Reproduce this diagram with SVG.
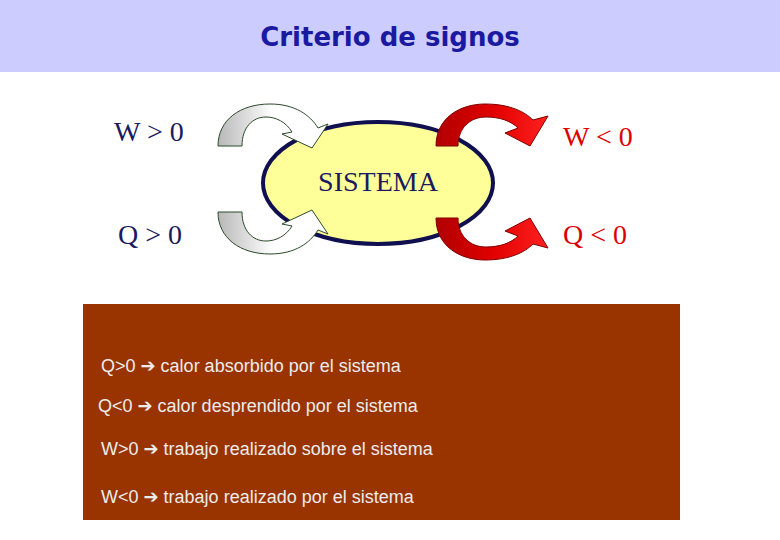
<svg xmlns="http://www.w3.org/2000/svg" width="780" height="540" viewBox="0 0 780 540">
<defs>
<linearGradient id="g" x1="0" y1="0" x2="1" y2="0"><stop offset="0" stop-color="#b8b8b8"/><stop offset="0.5" stop-color="#fff"/><stop offset="1" stop-color="#fff"/></linearGradient>
<linearGradient id="r" x1="0" y1="0" x2="1" y2="0"><stop offset="0" stop-color="#b00000"/><stop offset="0.5" stop-color="#e00000"/><stop offset="1" stop-color="#ff2020"/></linearGradient>
</defs>
<style>
.sg{font-family:"Liberation Serif",serif;font-size:28px}
.b{fill:#1a1a60}.rd{fill:#dd0000}
.t{font-family:"Liberation Sans","DejaVu Sans",sans-serif;font-size:18px;fill:#ececec}
.ga{fill:url(#g);stroke:#2a4a2a;stroke-width:1}
.ra{fill:url(#r);stroke:#800000;stroke-width:1}
</style>
<rect x="0" y="0" width="780" height="540" fill="#fff"/>
<g id="title"><rect x="0" y="0" width="780" height="72" fill="#ccccff"/>
<text x="390" y="46" text-anchor="middle" font-family="'DejaVu Sans',sans-serif" font-weight="bold" font-size="26" fill="#1a1aa0">Criterio de signos</text></g>
<g id="sistema"><ellipse cx="378" cy="183" rx="115" ry="61" fill="#ffff99" stroke="#101050" stroke-width="4"/>
<text x="378" y="191" text-anchor="middle" class="sg b" font-size="25">SISTEMA</text></g>
<g id="connectors">
<path class="ga" d="M218,146 C218,120 240,104 270,104 C295,104 310,115 318,128 L328,124 L312,148 L282,134 L292,132 C286,122 276,117 266,117 C252,117 242,128 242,146 Z"/>
<path class="ga" transform="matrix(1,0,0,-1,0,358)" d="M218,146 C218,120 240,104 270,104 C295,104 310,115 318,128 L328,124 L312,148 L282,134 L292,132 C286,122 276,117 266,117 C252,117 242,128 242,146 Z"/>
<path class="ra" d="M436,146 C436,118 460,104 485,104 C510,104 525,112 533,120 L548,116 L530,146 L505,133 L518,128 C511,121 500,117 486,117 C470,117 458,128 458,146 Z"/>
<path class="ra" transform="matrix(1,0,0,-1,0,364)" d="M436,146 C436,118 460,104 485,104 C510,104 525,112 533,120 L548,116 L530,146 L505,133 L518,128 C511,121 500,117 486,117 C470,117 458,128 458,146 Z"/>
</g>
<g id="labels">
<text x="114" y="141" class="sg b">W &gt; 0</text>
<text x="563" y="146" class="sg rd">W &lt; 0</text>
<text x="118" y="244" class="sg b">Q &gt; 0</text>
<text x="563" y="244" class="sg rd">Q &lt; 0</text>
</g>
<g id="legend"><rect x="83" y="304" width="597" height="216" fill="#993300"/>
<text x="101" y="372" class="t">Q&gt;0  ➔  calor  absorbido por el sistema</text>
<text x="98" y="412" class="t">Q&lt;0  ➔  calor desprendido por el sistema</text>
<text x="101" y="455" class="t">W&gt;0  ➔  trabajo realizado sobre el sistema</text>
<text x="101" y="503" class="t">W&lt;0  ➔  trabajo realizado por el sistema</text>
</g>
</svg>
